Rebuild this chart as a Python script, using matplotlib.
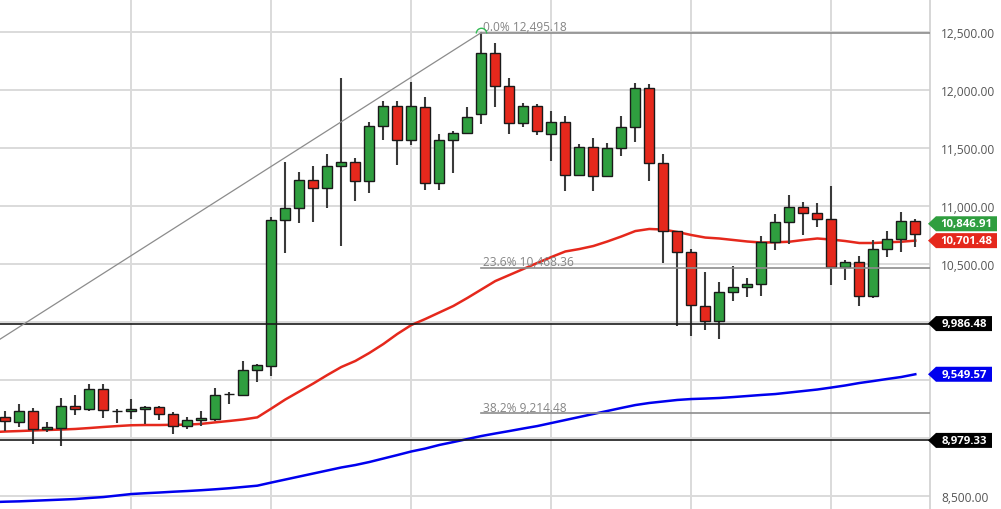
import numpy as np
import matplotlib
matplotlib.use("Agg")
import matplotlib.pyplot as plt
from matplotlib.path import Path
from matplotlib.patches import Polygon

plt.rcParams['font.family'] = ['Open Sans', 'DejaVu Sans']

# ---------------- data ----------------
opens = [9178, 9141, 9233, 9075, 9086, 9273, 9250, 9425, 9230, 9235,
         9246, 9270, 9207, 9101, 9153, 9164, 9377, 9373, 9586, 9623,
         10879, 10980, 11224, 11153, 11347, 11377, 11213, 11692, 11859, 11572,
         11856, 11196, 11569, 11629, 11793, 12322, 12032, 11716, 11865, 11621,
         11727, 11267, 11511, 11261, 11500, 11678, 12017, 11371, 10787, 10601,
         10141, 10011, 10256, 10299, 10325, 10687, 10860, 10994, 10937, 10885,
         10477, 10515, 10227, 10629, 10713, 10868]
highs = [9233, 9293, 9259, 9141, 9345, 9368, 9466, 9466, 9253, 9336,
         9276, 9276, 9222, 9178, 9230, 9428, 9394, 9661, 9638, 10903,
         11377, 11290, 11347, 11448, 12101, 11411, 11727, 11908, 11908, 12072,
         11937, 11621, 11649, 11856, 12495.18, 12403, 12101, 11885, 11879, 11822,
         11778, 11535, 11586, 11543, 11773, 12058, 12052, 11448, 10787, 10629,
         10434, 10342, 10480, 10377, 10744, 10931, 11095, 11037, 11026, 11170,
         10535, 10566, 10707, 10782, 10946, 10888]
lows = [9060, 9092, 8948, 9052, 8931, 9201, 9230, 9170, 9127, 9160,
        9121, 9158, 9035, 9078, 9106, 9144, 9293, 9365, 9480, 9537,
        10592, 10853, 10865, 10980, 10658, 11040, 11109, 11572, 11353, 11526,
        11138, 11140, 11282, 11621, 11707, 11851, 11621, 11678, 11615, 11385,
        11127, 11261, 11132, 11261, 11434, 11554, 11218, 10509, 9963, 9882,
        9934, 9853, 10184, 10213, 10222, 10623, 10672, 10753, 10816, 10322,
        10365, 10141, 10204, 10563, 10601, 10644]
closes = [9144, 9235, 9078, 9092, 9273, 9250, 9425, 9244, 9235, 9247,
          9267, 9207, 9106, 9155, 9172, 9373, 9382, 9586, 9629, 10879,
          10980, 11224, 11153, 11347, 11377, 11213, 11692, 11859, 11572, 11859,
          11196, 11569, 11629, 11770, 12322, 12032, 11716, 11865, 11649, 11727,
          11267, 11511, 11261, 11500, 11678, 12017, 11371, 10787, 10601, 10147,
          10011, 10256, 10299, 10325, 10687, 10860, 10994, 10937, 10888, 10477,
          10515, 10227, 10629, 10716, 10868, 10759]

# moving averages (first value belongs to the session just before the visible range)
ma_fast = [9050, 9056, 9060, 9065, 9069, 9073, 9078, 9086, 9095, 9103, 9110,
           9112, 9112, 9114, 9115, 9122, 9135, 9147, 9160, 9178, 9254,
           9332, 9401, 9470, 9543, 9612, 9664, 9733, 9810, 9897, 9974,
           10026, 10082, 10138, 10207, 10280, 10353, 10405, 10457, 10509, 10560,
           10608, 10629, 10655, 10694, 10737, 10784, 10802, 10797, 10776, 10750,
           10728, 10720, 10707, 10694, 10685, 10687, 10692, 10707, 10720, 10711,
           10698, 10681, 10681, 10687, 10692, 10701.48]
ma_slow = [8447, 8451, 8454, 8459, 8464, 8469, 8474, 8483, 8491, 8504, 8517,
           8524, 8530, 8537, 8543, 8550, 8558, 8567, 8578, 8589, 8616,
           8642, 8668, 8694, 8720, 8746, 8767, 8793, 8823, 8853, 8884,
           8909, 8940, 8965, 8991, 9017, 9039, 9060, 9082, 9103, 9129,
           9155, 9181, 9207, 9233, 9259, 9284, 9302, 9315, 9328, 9336,
           9340, 9345, 9353, 9362, 9371, 9379, 9392, 9405, 9418, 9435,
           9453, 9474, 9491, 9509, 9526, 9549.57]

fib_high = 12495.18
fib_low = 3906.96
fib_high_idx = 34
fib_low_idx = -77.7
fib_pcts = [0.0, 0.236, 0.382]

support_levels = [9986.48, 8979.33]
last_price = 10846.91
yticks = [8500, 9000, 9500, 10000, 10500, 11000, 11500, 12000, 12500]
vgrid_idx = [9, 19, 29, 39, 49, 59]

GREEN = '#2f9e3f'
RED = '#e5281c'
BLUE = '#0000ee'

# ---------------- figure ----------------
W, H = 1001, 510
fig = plt.figure(figsize=(W / 100, H / 100), dpi=100)
ax_w_px = 930
ax = fig.add_axes([0, 0, ax_w_px / W, 1])
YLO, YHI = 8388, 12784.5
ax.set_xlim(-0.38, 66.05)
ax.set_ylim(YLO, YHI)
ypx = (YHI - YLO) / H

n = len(opens)
x = np.arange(n)

tag_values = [last_price, ma_fast[-1], support_levels[0], ma_slow[-1], support_levels[1]]

# grid + axis labels (labels hidden where a price tag covers them)
ax.set_yticks(yticks)
labels = []
for v in yticks:
    covered = any(abs(v - t) < 12 * ypx for t in tag_values)
    labels.append('' if covered else f"{v:,.2f}")
ax.set_yticklabels(labels)
ax.set_xticks(vgrid_idx)
ax.set_xticklabels([])
ax.grid(True, color='#dadada', lw=1.4, zorder=0)
ax.set_axisbelow(True)
ax.yaxis.tick_right()
ax.tick_params(axis='y', length=0, pad=8, labelsize=8.6, labelcolor='#555555')
ax.tick_params(axis='x', length=0)
for s in ['top', 'left', 'bottom']:
    ax.spines[s].set_visible(False)
ax.spines['right'].set_color('#d0d0d0')
ax.spines['right'].set_linewidth(1.2)

# moving averages
xm = np.arange(-1, n)
ax.plot(xm, ma_slow, color=BLUE, lw=1.8, zorder=2)
ax.plot(xm, ma_fast, color=RED, lw=1.8, zorder=2)

# candles
o = np.array(opens, float); c = np.array(closes, float)
hi = np.array(highs, float); lo = np.array(lows, float)
up = c >= o
ax.vlines(x, lo, hi, color='#3a3a3a', lw=1.5, zorder=3)
bottoms = np.minimum(o, c)
heights = np.maximum(np.abs(c - o), 6)
ax.bar(x, heights, bottom=bottoms, width=0.72,
       color=np.where(up, GREEN, RED), edgecolor='#1a1a1a', lw=1.0, zorder=4)

# support lines
for lvl in support_levels:
    ax.axhline(lvl, color='#1a1a1a', lw=1.2, zorder=5)

# fibonacci
ax.plot([fib_low_idx, fib_high_idx], [fib_low, fib_high], color='#8c8c8c', lw=0.9, zorder=5)
for p in fib_pcts:
    lvl = fib_high - p * (fib_high - fib_low)
    ax.plot([fib_high_idx, 66.05], [lvl, lvl], color='#8c8c8c', lw=1.2, zorder=5)
    ax.annotate(f"{p*100:.1f}% {lvl:,.2f}", xy=(fib_high_idx, lvl), xytext=(1.5, 1.6),
                textcoords='offset points', ha='left', va='baseline',
                fontsize=8.6, color='#858585', zorder=6)
ax.plot([fib_high_idx], [fib_high], marker=Path.arc(0, 180), ms=7.5,
        mfc='none', mec='#33bb55', mew=1.0, ls='none', zorder=6)

# right-side price tags
px = 1.0 / ax_w_px
trans = ax.get_yaxis_transform()
tags = [(last_price, GREEN, 67), (ma_fast[-1], RED, 67), (support_levels[0], '#000000', 62),
        (ma_slow[-1], BLUE, 62), (support_levels[1], '#000000', 62)]
for val, col, wpx in tags:
    hh = 7.5 * ypx
    verts = [(1 - 2 * px, val), (1 + 6 * px, val + hh), (1 + wpx * px, val + hh),
             (1 + wpx * px, val - hh), (1 + 6 * px, val - hh)]
    poly = Polygon(verts, closed=True, transform=trans, facecolor=col,
                   edgecolor='none', clip_on=False, zorder=10)
    ax.add_patch(poly)
    ax.text(1 + (6 + wpx) / 2 * px, val, f"{val:,.2f}", transform=trans,
            ha='center', va='center', fontsize=8.2, fontweight='bold',
            color='white', clip_on=False, zorder=11)

fig.savefig('out.png', dpi=100)
